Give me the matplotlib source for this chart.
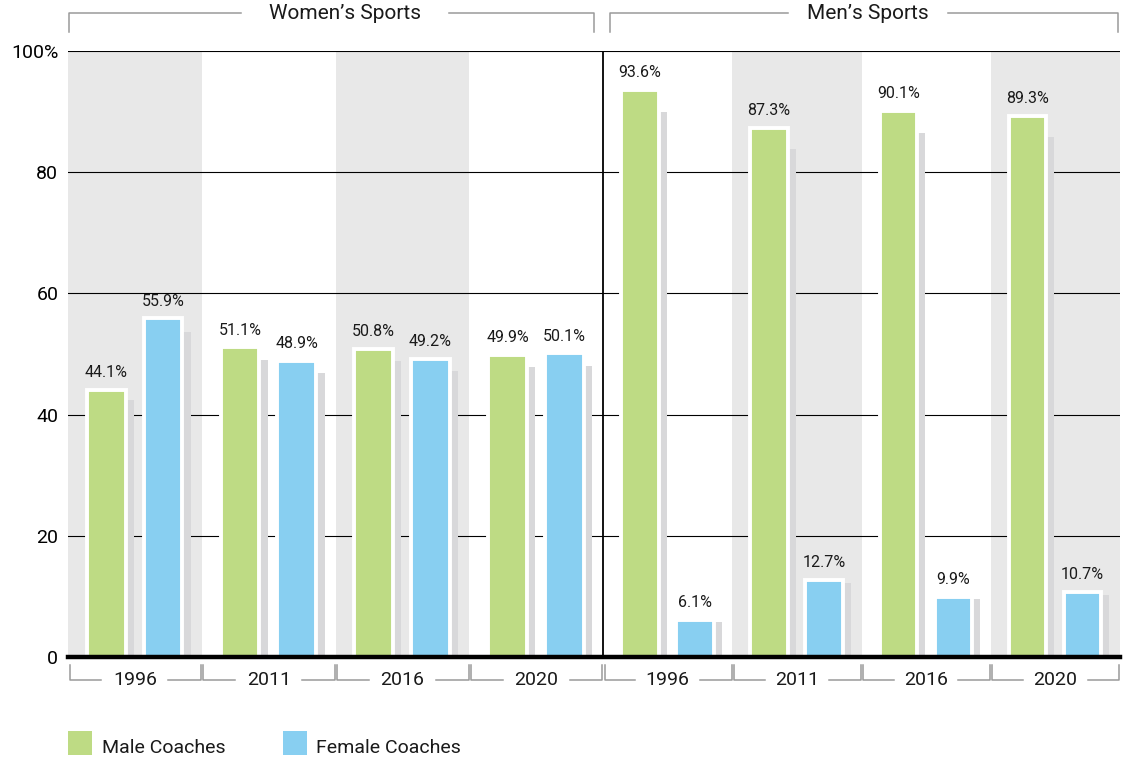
import numpy as np
import matplotlib
matplotlib.use("Agg")
from matplotlib import pyplot as plt
from matplotlib.patches import Rectangle

plt.rcParams.update({
    "font.family": ["Roboto", "DejaVu Sans"],
    "font.size": 14,
    "text.color": "#1a1a1a",
})

# data
years = ["1996", "2011", "2016", "2020"]
sections = ["Women\u2019s Sports", "Men\u2019s Sports"]
women_male = [44.1, 51.1, 50.8, 49.9]
women_female = [55.9, 48.9, 49.2, 50.1]
men_male = [93.6, 87.3, 90.1, 89.3]
men_female = [6.1, 12.7, 9.9, 10.7]
series_names = ["Male Coaches", "Female Coaches"]
yticks = [0, 20, 40, 60, 80, 100]
ytick_labels = ["0", "20", "40", "60", "80", "100%"]

GREEN = "#bedb84"
BLUE = "#88cff1"
BAND = "#e8e8e8"
SHADOW = "#d8d8da"
BRACKET = "#9a9a9a"
SHADOW_SCALE = 0.96  # drop-shadow bar is a bit shorter than the bar itself

fig = plt.figure(figsize=(11.24, 7.61), dpi=100)
ax = fig.add_axes([68 / 1124, 1 - 657 / 761, (1120 - 68) / 1124, (657 - 51) / 761])

# group layout (women's groups a little wider than men's)
widths = [1.0] * 4 + [0.966] * 4
edges = np.concatenate([[0], np.cumsum(widths)])
male = women_male + men_male
female = women_female + men_female
labels = years + years
shaded = [True, False, True, False, False, True, False, True]

for i in range(8):
    left, gw = edges[i], widths[i]
    if shaded[i]:
        ax.axvspan(left, left + gw, ymin=0, ymax=1, color=BAND, lw=0, zorder=0)
    for val, col, frac in [(male[i], GREEN, 0.285), (female[i], BLUE, 0.71)]:
        xc = left + frac * gw
        ax.bar(xc + 0.18 * gw, val * SHADOW_SCALE, width=0.055 * gw, color=SHADOW,
               lw=0, zorder=2)
        ax.bar(xc, val, width=0.29 * gw, color=col, edgecolor="white",
               linewidth=2.8, zorder=3)
        ax.annotate(f"{val:.1f}%", (xc, val), xytext=(0, 7), textcoords="offset points",
                    ha="center", va="bottom", fontsize=11.5, zorder=4)

    # year bracket under each group
    tr = ax.get_xaxis_transform()
    l, r, c = left + 0.012, left + gw - 0.006, left + gw / 2
    yb, yt = -0.038, -0.013
    ax.plot([l, l, c - 0.25 * gw], [yt, yb, yb], color=BRACKET, lw=1.1,
            transform=tr, clip_on=False)
    ax.plot([c + 0.25 * gw, r, r], [yb, yb, yt], color=BRACKET, lw=1.1,
            transform=tr, clip_on=False)
    ax.text(c, yb, labels[i], transform=tr, ha="center", va="center", fontsize=14)

for y in yticks[1:]:
    ax.axhline(y, color="black", lw=0.8, zorder=1)
ax.axhline(0, color="black", lw=3.2, zorder=6, clip_on=False)
ax.axvline(edges[4], ymin=0, ymax=1, color="black", lw=1.3, zorder=5)

# section brackets on top
tr = ax.get_xaxis_transform()
yb, yt = 1.0627, 1.0314
for (l, r, c, half), name in zip([(0.008, 3.93, 2.07, 0.78), (4.05, 7.852, 5.98, 0.60)], sections):
    ax.plot([l, l, c - half], [yt, yb, yb], color=BRACKET, lw=1.1, transform=tr, clip_on=False)
    ax.plot([c + half, r, r], [yb, yb, yt], color=BRACKET, lw=1.1, transform=tr, clip_on=False)
    ax.text(c, yb, name, transform=tr, ha="center", va="center", fontsize=15)

ax.set_xlim(0, edges[-1])
ax.set_ylim(0, 100)
ax.set_xticks([])
ax.set_yticks(yticks)
ax.set_yticklabels(ytick_labels, fontsize=14)
ax.tick_params(axis="y", length=0, pad=7)
for s in ax.spines.values():
    s.set_visible(False)

# legend
for (x0, tx), name, col in zip([(68, 102), (283, 316)], series_names, [GREEN, BLUE]):
    fig.add_artist(Rectangle((x0 / 1124, 1 - 755 / 761), 24 / 1124, 24 / 761,
                             transform=fig.transFigure, color=col, lw=0))
    fig.text(tx / 1124, 1 - 748 / 761, name, ha="left", va="center", fontsize=14)

fig.savefig("out.png", dpi=100)
